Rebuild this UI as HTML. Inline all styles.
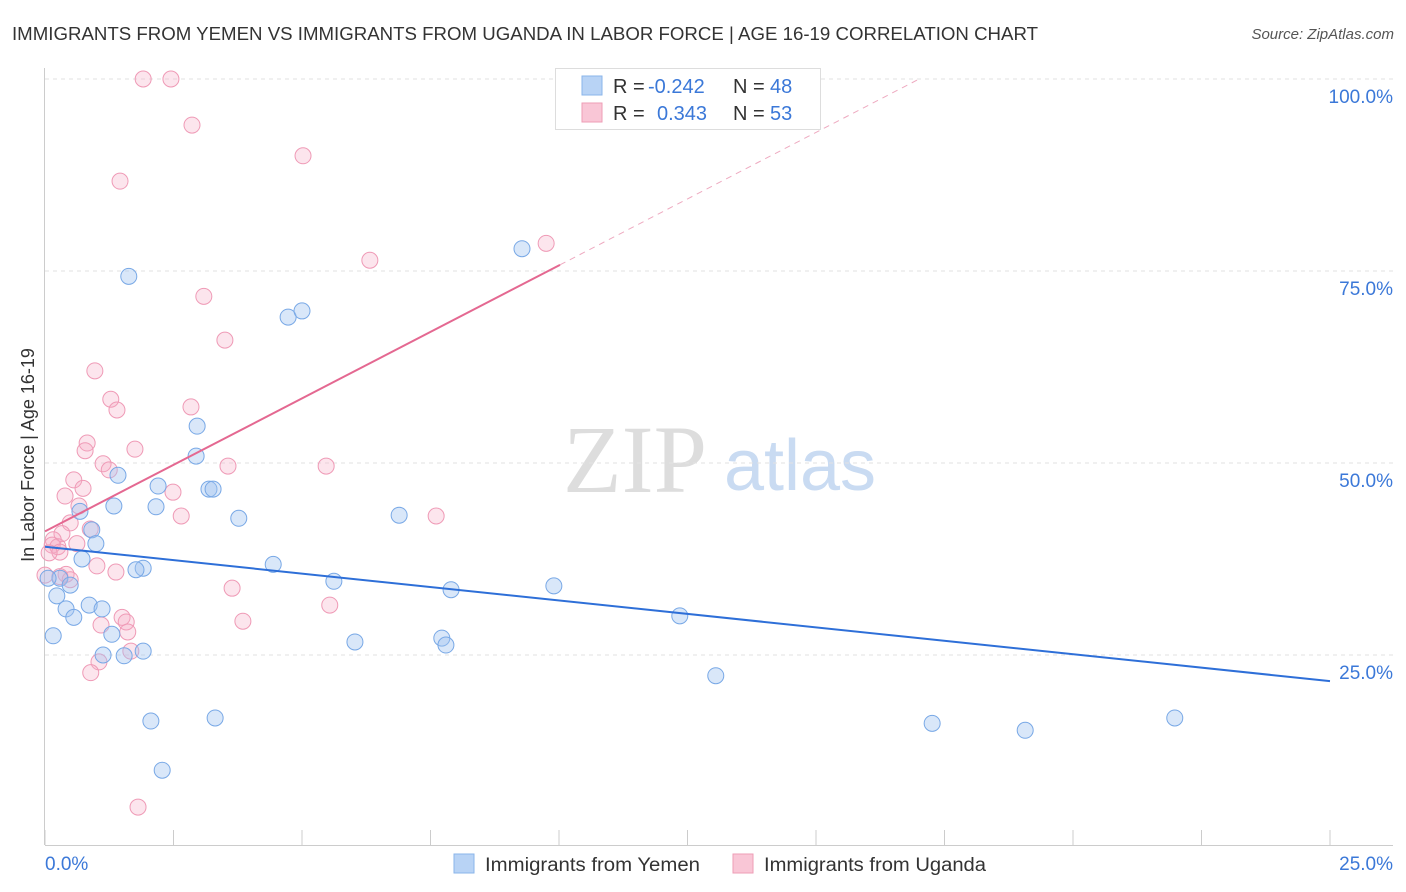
<!DOCTYPE html>
<html><head><meta charset="utf-8"><style>
body{margin:0;background:#fff;font-family:"Liberation Sans",sans-serif;}
svg{display:block}
</style></head><body>
<svg id="c" width="1406" height="892">
<text x="12" y="40" font-size="18" fill="#333" textLength="1026" lengthAdjust="spacingAndGlyphs">IMMIGRANTS FROM YEMEN VS IMMIGRANTS FROM UGANDA IN LABOR FORCE | AGE 16-19 CORRELATION CHART</text>
<text x="1394" y="39" font-size="15" fill="#555" font-style="italic" text-anchor="end">Source: ZipAtlas.com</text>
<text x="635" y="492" font-size="96" fill="#ddd" font-family="Liberation Serif,serif" text-anchor="middle">ZIP</text>
<text x="800" y="490" font-size="72" fill="#c9dbf2" text-anchor="middle">atlas</text>
<text transform="translate(34,455) rotate(-90)" font-size="18" fill="#333" text-anchor="middle">In Labor Force | Age 16-19</text>
<g id="grid"></g><g id="marks"></g><g id="trend"></g>
<g>
<rect x="555.5" y="68.5" width="265" height="61" fill="#fff" stroke="#ddd"/>
<rect x="582" y="76" width="20" height="19" fill="#b8d3f5" stroke="#8ab4ea"/>
<rect x="582" y="103" width="20" height="19" fill="#f9c6d6" stroke="#ee9db6"/>
<text x="613" y="93" font-size="20" fill="#333">R = <tspan x="648" fill="#3b78d8">-0.242</tspan><tspan x="733">N = </tspan><tspan x="770" fill="#3b78d8">48</tspan></text>
<text x="613" y="120" font-size="20" fill="#333">R = <tspan x="657" fill="#3b78d8">0.343</tspan><tspan x="733">N = </tspan><tspan x="770" fill="#3b78d8">53</tspan></text>
</g>
<g>
<rect x="454" y="854" width="20" height="19" fill="#b8d3f5" stroke="#8ab4ea"/>
<text x="485" y="871" font-size="19" fill="#333" textLength="215" lengthAdjust="spacingAndGlyphs">Immigrants from Yemen</text>
<rect x="733" y="854" width="20" height="19" fill="#f9c6d6" stroke="#ee9db6"/>
<text x="764" y="871" font-size="19" fill="#333" textLength="222" lengthAdjust="spacingAndGlyphs">Immigrants from Uganda</text>
</g>
<text x="45" y="870" font-size="19" fill="#3b78d8">0.0%</text>
<text x="1393" y="870" font-size="19" fill="#3b78d8" text-anchor="end">25.0%</text>
</svg>
<script>
const yTicks=[25,50,75,100];
const yTickLabels=["25.0%","50.0%","75.0%","100.0%"];
const yemenX=[1.63,9.28,4.73,5.00,2.96,2.94,1.42,2.20,3.19,3.27,2.16,1.34,3.77,6.89,0.68,0.91,0.99,0.72,4.44,1.91,1.77,5.62,7.90,9.90,0.29,0.06,0.49,0.23,0.41,0.86,1.11,0.56,12.35,0.16,1.30,6.03,7.72,7.80,1.91,1.13,1.54,13.05,2.06,3.31,17.26,19.07,21.98,2.28];
const yemenY=[74.3,77.9,69.0,69.8,54.8,50.9,48.4,47.0,46.6,46.6,44.3,44.4,42.8,43.2,43.7,41.3,39.5,37.5,36.8,36.3,36.1,34.6,33.5,34.0,35.0,35.0,34.1,32.7,31.0,31.5,31.0,29.9,30.1,27.5,27.7,26.7,27.2,26.3,25.5,25.0,24.9,22.3,16.4,16.8,16.1,15.2,16.8,10.0];
const ugandaX=[1.91,2.45,2.86,5.02,1.46,9.75,6.32,3.09,3.50,0.97,1.28,1.40,2.84,0.82,1.75,0.78,1.13,1.25,3.56,5.47,0.56,0.74,0.39,2.49,0.66,2.65,7.61,0.49,0.88,0.33,0.16,0.14,0.25,0.62,0.29,0.08,1.01,1.38,0.41,0.49,3.64,0.29,5.54,1.50,1.58,1.09,3.85,1.61,1.67,1.05,0.89,1.81,0];
const ugandaY=[100,100,94.0,90.0,86.7,78.6,76.4,71.7,66.0,62.0,58.3,56.9,57.3,52.6,51.8,51.6,49.9,49.1,49.6,49.6,47.8,46.7,45.7,46.2,44.4,43.1,43.1,42.2,41.4,40.8,40.0,39.3,39.1,39.5,38.4,38.3,36.6,35.8,35.5,34.8,33.7,35.2,31.5,29.9,29.3,28.9,29.4,28.0,25.5,24.1,22.7,5.2,35.4];
const yemenTrend=[39.1,21.6];
const ugandaTrend=[41.1,75.8];
const NS="http://www.w3.org/2000/svg";
const X=v=>45+v/25*1285, Y=v=>847-v/100*768;
function mk(t,a,p){const e=document.createElementNS(NS,t);for(const k in a)e.setAttribute(k,a[k]);p.appendChild(e);return e;}
const grid=document.getElementById('grid'),marks=document.getElementById('marks'),trend=document.getElementById('trend');
yTicks.forEach((t,i)=>{
 const l=mk('line',{x1:45,x2:1393,y1:Y(t),y2:Y(t),stroke:'#e2e2e2','stroke-dasharray':'4,4'},grid);
 
 
 const tx=mk('text',{x:1393,y:Y(t)+24,'font-size':19,fill:'#3b78d8','text-anchor':'end'},grid);
 tx.textContent=yTickLabels[i];
 
 
});
const ax=mk('line',{x1:45,x2:1393,y1:845.5,y2:845.5,stroke:'#ccc'},grid);


const ay=mk('line',{x1:44.5,x2:44.5,y1:68,y2:845,stroke:'#ccc'},grid);


for(let i=0;i<=10;i++){const t=mk('line',{x1:X(i*2.5),x2:X(i*2.5),y1:830,y2:845,stroke:'#ccc'},grid);
 
 }
ugandaX.forEach((x,i)=>{const c=mk('circle',{cx:X(x),cy:Y(ugandaY[i]),r:8,fill:'rgba(246,170,195,0.3)',stroke:'#ef9ab6','stroke-width':1},marks);
 
 });
yemenX.forEach((x,i)=>{const c=mk('circle',{cx:X(x),cy:Y(yemenY[i]),r:8,fill:'rgba(160,196,240,0.4)',stroke:'#78a8e6','stroke-width':1},marks);
 
 });
const bl=mk('line',{x1:X(0),y1:Y(yemenTrend[0]),x2:X(25),y2:Y(yemenTrend[1]),stroke:'#2e6fd8','stroke-width':2},trend);


const xe=10.02, slope=(ugandaTrend[1]-ugandaTrend[0])/xe, x100=(100-ugandaTrend[0])/slope;
const pl=mk('line',{x1:X(0),y1:Y(ugandaTrend[0]),x2:X(xe),y2:Y(ugandaTrend[1]),stroke:'#e46891','stroke-width':2},trend);


const pd=mk('line',{x1:X(xe),y1:Y(ugandaTrend[1]),x2:X(x100),y2:Y(100),stroke:'#eeaac0','stroke-width':1,'stroke-dasharray':'6,5'},trend);


</script>
</body></html>
